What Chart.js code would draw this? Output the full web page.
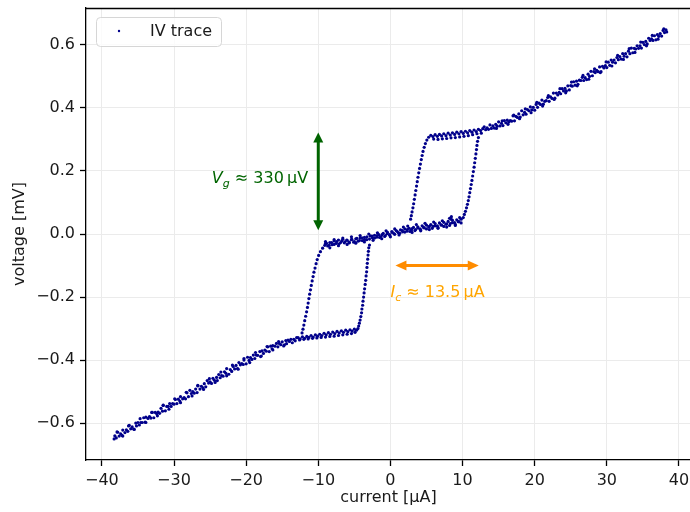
<!DOCTYPE html>
<html lang="en">

<head>
    <meta charset="UTF-8">
    <title>IV trace</title>
    <script src="https://cdn.jsdelivr.net/npm/chart.js"></script>
    <style>
        html, body { margin: 0; background: #fff; overflow: hidden; }
        canvas { display: block; }
    </style>
</head>

<body>
    <!-- 5px wider than the window: Chart.js keeps a small right gutter, the reference frame runs off the edge -->
    <canvas id="ivChart" width="695" height="512"></canvas>

    <script>
        // Ticks and axis limits
        const xTicks = [-40, -30, -20, -10, 0, 10, 20, 30, 40];
        const yTicks = [-0.6, -0.4, -0.2, 0.0, 0.2, 0.4, 0.6];
        const xLimits = [-42.2, 41.67];
        const yLimits = [-0.717, 0.717];

        // IV trace: [current uA, voltage mV]
        const resistiveNegUp = [
            [-38.2, -.640], [-37.8, -.629], [-37.4, -.634], [-37.1, -.622], [-36.6, -.621], [-36.2, -.607], [-35.8, -.612], [-35.3, -.600],
            [-35.0, -.598], [-34.6, -.598], [-34.2, -.583], [-33.9, -.581], [-33.4, -.579], [-33.0, -.566], [-32.6, -.566], [-32.2, -.565],
            [-31.8, -.553], [-31.5, -.543], [-31.0, -.547], [-30.6, -.538], [-30.2, -.538], [-29.8, -.525], [-29.4, -.524], [-29.1, -.516],
            [-28.6, -.519], [-28.2, -.504], [-27.8, -.496], [-27.4, -.500], [-27.0, -.492], [-26.7, -.482], [-26.2, -.483], [-25.8, -.475],
            [-25.4, -.465], [-25.0, -.469], [-24.6, -.458], [-24.1, -.455], [-23.8, -.446], [-23.4, -.449], [-23.0, -.437], [-22.7, -.427],
            [-22.2, -.430], [-21.8, -.420], [-21.4, -.417], [-21.0, -.408], [-20.6, -.411], [-20.3, -.400], [-19.8, -.391], [-19.4, -.392],
            [-19.0, -.384], [-18.6, -.384], [-18.1, -.373], [-17.8, -.371], [-17.4, -.368], [-17.0, -.358], [-16.6, -.356], [-16.3, -.354],
            [-15.8, -.347], [-15.4, -.347], [-15.0, -.342], [-14.5, -.338], [-14.2, -.337], [-13.8, -.334], [-13.4, -.334], [-13.0, -.329]
        ];
        const resistiveNegDown = [
            [-13.2, -.339], [-13.6, -.345], [-14.0, -.341], [-14.4, -.348], [-14.8, -.355], [-15.2, -.351], [-15.6, -.358], [-16.0, -.356],
            [-16.4, -.364], [-16.8, -.373], [-17.2, -.372], [-17.6, -.379], [-18.0, -.389], [-18.4, -.385], [-18.8, -.395], [-19.2, -.398],
            [-19.6, -.401], [-20.0, -.412], [-20.4, -.414], [-20.8, -.415], [-21.2, -.427], [-21.6, -.428], [-22.0, -.436], [-22.4, -.445],
            [-22.8, -.442], [-23.2, -.451], [-23.6, -.456], [-24.0, -.465], [-24.4, -.464], [-24.8, -.474], [-25.2, -.473], [-25.6, -.485],
            [-26.0, -.488], [-26.4, -.492], [-26.8, -.503], [-27.2, -.505], [-27.6, -.506], [-28.0, -.516], [-28.4, -.523], [-28.8, -.523],
            [-29.2, -.530], [-29.6, -.538], [-30.0, -.540], [-30.4, -.547], [-30.8, -.547], [-31.2, -.561], [-31.6, -.562], [-32.0, -.569],
            [-32.4, -.570], [-32.8, -.583], [-33.2, -.584], [-33.6, -.585], [-34.0, -.597], [-34.4, -.598], [-34.8, -.606], [-35.2, -.609],
            [-35.6, -.619], [-36.0, -.618], [-36.4, -.626], [-36.8, -.630], [-37.2, -.639], [-37.6, -.641], [-38.0, -.647], [-38.3, -.650]
        ];
        const resistiveNegScatter = [
            [-37.9, -.628], [-37.1, -.641], [-36.3, -.609], [-35.5, -.620], [-34.7, -.586], [-33.9, -.598], [-33.1, -.566], [-32.3, -.577],
            [-31.5, -.544], [-30.7, -.556], [-29.9, -.523], [-29.1, -.535], [-28.3, -.502], [-27.5, -.514], [-26.7, -.480], [-25.9, -.493],
            [-25.1, -.459], [-24.3, -.471], [-23.5, -.438], [-22.7, -.450], [-21.9, -.416], [-21.1, -.429], [-20.3, -.395], [-19.5, -.408],
            [-18.7, -.376], [-17.9, -.387], [-17.1, -.357], [-16.3, -.368], [-15.5, -.341], [-14.7, -.352]
        ];
        const plateauNegA = [
            [-12.8, -.329], [-12.5, -.333], [-12.2, -.326], [-11.9, -.331], [-11.6, -.325], [-11.3, -.328], [-11.0, -.322], [-10.7, -.327],
            [-10.4, -.320], [-10.1, -.324], [-9.8, -.318], [-9.5, -.322], [-9.2, -.315], [-8.9, -.320], [-8.6, -.313], [-8.3, -.318],
            [-8.0, -.311], [-7.7, -.316], [-7.4, -.309], [-7.1, -.314], [-6.8, -.307], [-6.5, -.312], [-6.2, -.305], [-5.9, -.310],
            [-5.6, -.304], [-5.3, -.308], [-5.0, -.302], [-4.7, -.305]
        ];
        const plateauNegB = [
            [-12.6, -.336], [-12.0, -.334], [-11.4, -.333], [-10.8, -.331], [-10.2, -.330], [-9.6, -.328], [-9.0, -.327],
            [-8.4, -.325], [-7.8, -.324], [-7.2, -.322], [-6.6, -.320], [-6.0, -.318], [-5.4, -.316], [-4.9, -.312]
        ];
        const switchNegUp = [
            [-4.5, -.300], [-4.4, -.292], [-4.3, -.283], [-4.2, -.273], [-4.1, -.262], [-4.0, -.250], [-3.95, -.238], [-3.85, -.226],
            [-3.8, -.213], [-3.72, -.200], [-3.65, -.187], [-3.58, -.174], [-3.5, -.160], [-3.43, -.147], [-3.37, -.133], [-3.3, -.120],
            [-3.25, -.106], [-3.2, -.093], [-3.15, -.080], [-3.1, -.067], [-3.05, -.055], [-3.0, -.044], [-2.9, -.035]
        ];
        const switchNegDown = [
            [-9.1, -.036], [-9.4, -.045], [-9.7, -.056], [-9.95, -.068], [-10.15, -.081], [-10.3, -.094], [-10.45, -.108], [-10.6, -.121],
            [-10.72, -.135], [-10.85, -.149], [-10.97, -.163], [-11.08, -.177], [-11.2, -.191], [-11.3, -.205], [-11.4, -.219], [-11.5, -.233],
            [-11.62, -.247], [-11.75, -.261], [-11.88, -.275], [-12.0, -.289], [-12.12, -.302], [-12.25, -.314]
        ];
        const midBranchUp = [
            [-2.8, -.006], [-2.5, -.012], [-2.2, -.004], [-1.9, -.010], [-1.6, -.002], [-1.3, -.008], [-1.0, .002], [-0.7, -.005],
            [-0.4, .005], [-0.1, -.002], [0.2, .008], [0.5, .001], [0.8, .011], [1.1, .004], [1.4, .013], [1.7, .007],
            [2.0, .016], [2.3, .009], [2.6, .018], [2.9, .012], [3.2, .021], [3.5, .014], [3.8, .023], [4.1, .016],
            [4.4, .026], [4.7, .019], [5.0, .028], [5.3, .022], [5.6, .030], [5.9, .024], [6.2, .033], [6.5, .026],
            [6.8, .035], [7.1, .028], [7.4, .037], [7.7, .031], [8.0, .040], [8.2, .050], [8.45, .055], [8.3, .033],
            [8.6, .044], [8.9, .036], [9.2, .045], [9.5, .039], [9.8, .047]
        ];
        const midBranchDown = [
            [2.7, .008], [2.35, .014], [2.0, .006], [1.65, .011], [1.3, .002], [0.95, .008], [0.6, -.001], [0.25, .005],
            [-0.1, -.004], [-0.45, .001], [-0.8, -.008], [-1.15, -.002], [-1.5, -.011], [-1.85, -.005], [-2.2, -.013], [-2.55, -.007],
            [-2.9, -.016], [-3.25, -.009], [-3.6, -.018], [-3.95, -.012], [-4.3, -.021], [-4.65, -.014], [-5.0, -.024], [-5.35, -.017],
            [-5.7, -.026], [-6.05, -.019], [-6.4, -.028], [-6.75, -.022], [-7.1, -.031], [-7.45, -.024], [-7.8, -.033], [-8.15, -.027],
            [-8.5, -.036], [-8.85, -.030]
        ];
        const midBranchNeg = [
            [-9.0, -.030], [-8.7, -.038], [-8.4, -.027], [-8.1, -.034], [-7.8, -.022], [-7.5, -.030], [-7.2, -.019], [-6.9, -.027],
            [-6.6, -.017], [-6.3, -.025], [-6.0, -.020], [-5.7, -.028], [-5.4, -.018], [-5.1, -.026], [-4.8, -.015], [-4.5, -.023],
            [-4.2, -.013], [-3.9, -.021], [-3.6, -.011], [-3.3, -.018]
        ];
        const midBranchPos = [
            [3.0, .017], [3.4, .011], [3.8, .019], [4.2, .013], [4.6, .021], [5.0, .016], [5.4, .024], [5.8, .018],
            [6.2, .026], [6.6, .021], [7.0, .029], [7.4, .024], [7.8, .032], [8.2, .027], [8.6, .036], [9.0, .031],
            [9.4, .039], [9.8, .035]
        ];
        const midBranchScatter = [
            [-9.0, -.024], [-8.4, -.044], [-7.8, -.018], [-7.2, -.037], [-6.6, -.013], [-6.0, -.033], [-5.4, -.009], [-4.8, -.029],
            [-4.2, -.005], [-3.6, -.025], [-3.0, .000], [-2.4, -.020], [-1.8, .004], [-1.2, -.015], [-0.6, .010], [0.0, -.009],
            [0.6, .016], [1.2, -.003], [1.8, .022], [2.4, .025], [3.0, .005], [3.6, .030], [4.2, .010], [4.8, .034],
            [5.4, .014], [6.0, .038], [6.6, .018], [7.2, .042], [7.8, .022], [8.4, .047], [9.0, .027], [9.6, .052]
        ];
        const switchPosUp = [
            [10.1, .052], [10.25, .062], [10.4, .072], [10.55, .083], [10.68, .094], [10.8, .106], [10.9, .118], [11.0, .131],
            [11.1, .144], [11.2, .157], [11.3, .170], [11.4, .184], [11.5, .198], [11.6, .212], [11.68, .226], [11.77, .240],
            [11.85, .254], [11.93, .268], [12.0, .281], [12.08, .294], [12.2, .306]
        ];
        const switchPosDown = [
            [5.3, .307], [5.05, .298], [4.85, .287], [4.68, .275], [4.52, .262], [4.4, .249], [4.28, .236], [4.16, .222],
            [4.04, .208], [3.93, .194], [3.82, .180], [3.72, .166], [3.62, .152], [3.52, .138], [3.42, .124], [3.32, .110],
            [3.22, .096], [3.12, .083], [3.0, .070], [2.9, .058], [2.8, .047]
        ];
        const plateauPosA = [
            [12.8, .334], [12.5, .328], [12.2, .332], [11.9, .325], [11.6, .330], [11.3, .323], [11.0, .328], [10.7, .321],
            [10.4, .326], [10.1, .319], [9.8, .325], [9.5, .318], [9.2, .323], [8.9, .316], [8.6, .321], [8.3, .314],
            [8.0, .320], [7.7, .312], [7.4, .318], [7.1, .311], [6.8, .316], [6.5, .310], [6.2, .315], [5.9, .309], [5.6, .313]
        ];
        const plateauPosB = [
            [12.6, .320], [12.0, .318], [11.4, .315], [10.8, .312], [10.2, .310], [9.6, .308], [9.0, .306], [8.4, .305],
            [7.8, .303], [7.2, .302], [6.6, .300], [6.0, .301]
        ];
        const resistivePosUp = [
            [13.0, .340], [13.4, .337], [13.8, .346], [14.2, .343], [14.6, .348], [15.0, .356], [15.4, .351], [15.8, .360],
            [16.2, .361], [16.6, .360], [17.0, .375], [17.4, .373], [17.8, .381], [18.2, .391], [18.6, .386], [19.0, .395],
            [19.4, .403], [19.8, .402], [20.2, .411], [20.6, .415], [21.0, .425], [21.4, .421], [21.8, .433], [22.2, .435],
            [22.6, .447], [23.0, .447], [23.4, .449], [23.8, .461], [24.2, .462], [24.6, .470], [25.0, .471], [25.4, .483],
            [25.8, .485], [26.2, .488], [26.6, .497], [27.0, .496], [27.4, .507], [27.8, .516], [28.2, .515], [28.6, .519],
            [29.0, .530], [29.4, .532], [29.8, .534], [30.2, .545], [30.6, .552], [31.0, .552], [31.4, .560], [31.8, .563],
            [32.2, .572], [32.6, .572], [33.0, .580], [33.4, .590], [33.8, .589], [34.2, .597], [34.6, .597], [35.0, .608],
            [35.4, .611], [35.8, .621], [36.2, .619], [36.6, .629], [37.0, .633], [37.4, .636], [37.8, .646], [38.2, .648]
        ];
        const resistivePosDown = [
            [38.3, .641], [38.0, .639], [37.6, .628], [37.2, .627], [36.8, .616], [36.4, .614], [36.0, .614], [35.6, .603],
            [35.2, .601], [34.8, .590], [34.4, .589], [34.0, .587], [33.6, .575], [33.2, .572], [32.8, .562], [32.4, .564],
            [32.0, .555], [31.6, .553], [31.2, .543], [30.8, .545], [30.4, .535], [30.0, .528], [29.6, .527], [29.2, .515],
            [28.8, .515], [28.4, .512], [28.0, .502], [27.6, .500], [27.2, .490], [26.8, .487], [26.4, .487], [26.0, .475],
            [25.6, .472], [25.2, .469], [24.8, .457], [24.4, .454], [24.0, .454], [23.6, .445], [23.2, .441], [22.8, .431],
            [22.4, .430], [22.0, .421], [21.6, .423], [21.2, .412], [20.8, .411], [20.4, .402], [20.0, .393], [19.6, .394],
            [19.2, .391], [18.8, .380], [18.4, .378], [18.0, .371], [17.6, .370], [17.2, .359], [16.8, .358], [16.4, .355],
            [16.0, .353], [15.6, .344], [15.2, .343], [14.8, .342], [14.4, .336], [14.0, .335], [13.6, .332], [13.2, .331]
        ];
        const resistivePosScatter = [
            [37.9, .651], [37.1, .618], [36.3, .630], [35.5, .597], [34.7, .609], [33.9, .576], [33.1, .588], [32.3, .554],
            [31.5, .567], [30.7, .533], [29.9, .546], [29.1, .512], [28.3, .524], [27.5, .491], [26.7, .503], [25.9, .470],
            [25.1, .482], [24.3, .448], [23.5, .461], [22.7, .427], [21.9, .439], [21.1, .406], [20.3, .418], [19.5, .385],
            [18.7, .397], [17.9, .366], [17.1, .377], [16.3, .348], [15.5, .359], [14.7, .335]
        ];

        // Annotations (data coordinates)
        const gapArrow = { x: -10, from: 0.012, to: 0.322 };
        const gapLabel = { x: -11.4, y: 0.162 };
        const critArrow = { y: -0.1, from: 0.7, to: 12.25 };
        const critLabel = { x: 0.0, y: -0.199 };

        const traceColor = '#00008b';
        const font = { family: 'DejaVu Sans', size: 16 };

        const ivPoints = [].concat(
            resistiveNegUp, resistiveNegScatter, plateauNegA, plateauNegB, switchNegUp, midBranchNeg, midBranchUp,
            midBranchPos, midBranchScatter, switchPosUp, resistivePosUp, resistivePosScatter, resistivePosDown,
            plateauPosA, plateauPosB, switchPosDown, midBranchDown, switchNegDown, resistiveNegDown
        ).map(([x, y]) => ({ x, y }));

        const fmtTick = v => (Math.abs(v) < 1e-9 ? 0 : v);

        function drawArrow(ctx, x1, y1, x2, y2, color, lw, headLen, headHalf) {
            const ang = Math.atan2(y2 - y1, x2 - x1);
            const ux = Math.cos(ang), uy = Math.sin(ang);
            ctx.save();
            ctx.strokeStyle = color;
            ctx.fillStyle = color;
            ctx.lineWidth = lw;
            ctx.beginPath();
            ctx.moveTo(x1 + ux * headLen * 0.8, y1 + uy * headLen * 0.8);
            ctx.lineTo(x2 - ux * headLen * 0.8, y2 - uy * headLen * 0.8);
            ctx.stroke();
            [[x1, y1, -1], [x2, y2, 1]].forEach(([tx, ty, s]) => {
                const bx = tx - s * ux * headLen, by = ty - s * uy * headLen;
                ctx.beginPath();
                ctx.moveTo(tx, ty);
                ctx.lineTo(bx - uy * headHalf, by + ux * headHalf);
                ctx.lineTo(bx + uy * headHalf, by - ux * headHalf);
                ctx.closePath();
                ctx.fill();
            });
            ctx.restore();
        }

        // pieces: [text, italic, subscript]
        function drawRich(ctx, pieces, x, y, align, color) {
            const fontOf = p => (p[1] ? 'italic ' : '') + (p[2] ? '11px' : '16px') + ' "DejaVu Sans"';
            ctx.save();
            ctx.fillStyle = color;
            ctx.textBaseline = 'alphabetic';
            ctx.textAlign = 'left';
            let total = 0;
            pieces.forEach(p => { ctx.font = fontOf(p); total += ctx.measureText(p[0]).width; });
            let cx = align === 'right' ? x - total : x;
            pieces.forEach(p => {
                ctx.font = fontOf(p);
                ctx.fillText(p[0], cx, p[2] ? y + 4 : y);
                cx += ctx.measureText(p[0]).width;
            });
            ctx.restore();
        }

        const decorations = {
            id: 'decorations',
            afterDatasetsDraw(chart) {
                const { ctx, chartArea, scales: { x, y } } = chart;
                // top spine
                ctx.save();
                ctx.strokeStyle = '#000';
                ctx.lineWidth = 1.3;
                ctx.beginPath();
                ctx.moveTo(chartArea.left, chartArea.top + 0.5);
                ctx.lineTo(chartArea.right, chartArea.top + 0.5);
                ctx.stroke();
                ctx.restore();

                drawArrow(ctx, x.getPixelForValue(gapArrow.x), y.getPixelForValue(gapArrow.from),
                    x.getPixelForValue(gapArrow.x), y.getPixelForValue(gapArrow.to), '#006400', 3, 10, 5);
                drawArrow(ctx, x.getPixelForValue(critArrow.from), y.getPixelForValue(critArrow.y),
                    x.getPixelForValue(critArrow.to), y.getPixelForValue(critArrow.y), '#ff8c00', 3, 11, 5);

                drawRich(ctx, [['V', true], ['g', true, true], [' \u2248 330\u2009\u03bcV']],
                    x.getPixelForValue(gapLabel.x), y.getPixelForValue(gapLabel.y), 'right', '#006400');
                drawRich(ctx, [['I', true], ['c', true, true], [' \u2248 13.5\u2009\u03bcA']],
                    x.getPixelForValue(critLabel.x), y.getPixelForValue(critLabel.y), 'left', '#ffa500');
            },
            afterDraw(chart) {
                const { ctx, chartArea } = chart;
                // legend box, upper left
                const bx = chartArea.left + 10, by = chartArea.top + 9;
                ctx.save();
                ctx.fillStyle = 'rgba(255,255,255,0.8)';
                ctx.strokeStyle = '#d6d6d6';
                ctx.lineWidth = 1;
                ctx.beginPath();
                ctx.roundRect(bx + 0.5, by + 0.5, 125, 29, 4);
                ctx.fill();
                ctx.stroke();
                ctx.fillStyle = traceColor;
                ctx.beginPath();
                ctx.arc(bx + 23, by + 14, 1.2, 0, Math.PI * 2);
                ctx.fill();
                ctx.fillStyle = '#1a1a1a';
                ctx.font = '16px "DejaVu Sans"';
                ctx.textBaseline = 'middle';
                ctx.fillText('IV trace', bx + 54, by + 15);
                ctx.restore();
            }
        };

        const ctx = document.getElementById('ivChart').getContext('2d');
        new Chart(ctx, {
            type: 'scatter',
            data: {
                datasets: [{
                    label: 'IV trace',
                    data: ivPoints,
                    backgroundColor: traceColor,
                    borderWidth: 0,
                    pointRadius: 1.6
                }]
            },
            options: {
                responsive: false,
                animation: false,
                layout: { padding: { top: 8, right: 0, left: 0, bottom: 0 } },
                plugins: {
                    legend: { display: false },
                    tooltip: { enabled: false }
                },
                scales: {
                    x: {
                        type: 'linear',
                        min: xLimits[0],
                        max: xLimits[1],
                        afterBuildTicks: s => { s.ticks = xTicks.map(v => ({ value: v })); },
                        afterFit: s => { s.height = 52; },
                        ticks: {
                            font, color: '#1a1a1a', padding: 5, maxRotation: 0,
                            callback: v => String(fmtTick(v)).replace('-', '\u2212')
                        },
                        grid: { color: '#ebebeb', lineWidth: 1, tickColor: '#000', tickLength: 6, tickWidth: 1.3 },
                        border: { color: '#000', width: 1.3 },
                        title: { display: true, text: 'current [\u03bcA]', font, color: '#1a1a1a', padding: { top: 0, bottom: 5 } }
                    },
                    y: {
                        type: 'linear',
                        min: yLimits[0],
                        max: yLimits[1],
                        afterBuildTicks: s => { s.ticks = yTicks.map(v => ({ value: v })); },
                        afterFit: s => { s.width = 86; s.paddingTop = 0; s.paddingBottom = 0; },
                        ticks: {
                            font, color: '#1a1a1a', padding: 5,
                            callback: v => fmtTick(v).toFixed(1).replace('-', '\u2212')
                        },
                        grid: { color: '#ebebeb', lineWidth: 1, tickColor: '#000', tickLength: 6, tickWidth: 1.3 },
                        border: { color: '#000', width: 1.3 },
                        title: { display: true, text: 'voltage [mV]', font, color: '#1a1a1a', padding: { top: 10, bottom: 0 } }
                    }
                }
            },
            plugins: [decorations]
        });
    </script>
</body>

</html>
